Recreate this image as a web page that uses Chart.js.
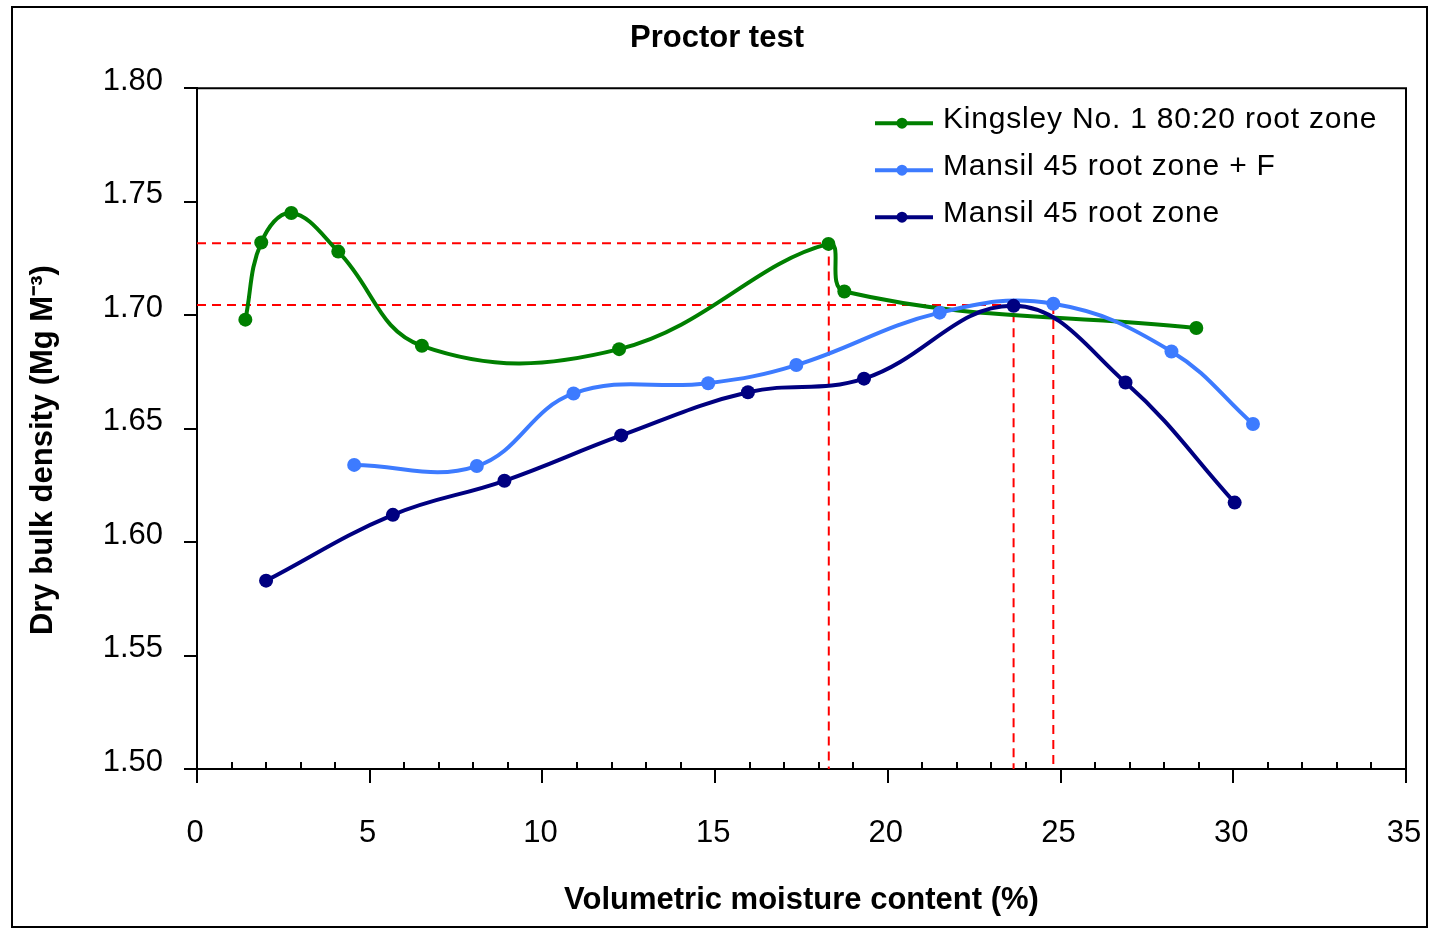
<!DOCTYPE html>
<html>
<head>
<meta charset="utf-8">
<title>Proctor test</title>
<script src="https://cdn.jsdelivr.net/npm/chart.js@4.4.1/dist/chart.umd.min.js"></script>
<style>
  html, body { margin: 0; padding: 0; background: #fff; }
  #wrap { position: relative; width: 1435px; height: 929px; overflow: hidden; }
  #frame { position: absolute; left: 11px; top: 6px; width: 1417px; height: 922px; border: 2px solid #000; box-sizing: border-box; }
  #proctor { position: absolute; left: 0; top: 0; }
</style>
</head>
<body>
<div id="wrap">
  <div id="frame"></div>
  <canvas id="proctor" width="1435" height="929"></canvas>
</div>
<script>
// moisture (%) and dry bulk density (Mg m-3)
const kingsleyX = [1.40, 1.86, 2.73, 4.09, 6.51, 12.22, 18.28, 18.74, 28.93];
const kingsleyY = [1.698, 1.732, 1.745, 1.728, 1.6865, 1.685, 1.7314, 1.7104, 1.6943];

const mansilFX = [4.55, 8.10, 10.90, 14.80, 17.35, 21.50, 24.79, 28.21, 30.57];
const mansilFY = [1.634, 1.6335, 1.6655, 1.670, 1.678, 1.7011, 1.705, 1.684, 1.652];

const mansilX = [2.00, 5.67, 8.90, 12.28, 15.95, 19.31, 23.64, 26.88, 30.04];
const mansilY = [1.583, 1.612, 1.627, 1.647, 1.666, 1.672, 1.7041, 1.6703, 1.6174];

// red dashed guide lines (max density / optimum moisture)
const guideX = [[0, 18.29, 18.29], [0, 23.64, 23.64], [24.79, 24.79]];
const guideY = [[1.7317, 1.7317, 1.5], [1.7045, 1.7045, 1.5], [1.7045, 1.5]];

const xTicks = { min: 0, max: 35, step: 5 };
const yTicks = { min: 1.5, max: 1.8, step: 0.05 };

const seriesLabels = ['Kingsley No. 1 80:20 root zone', 'Mansil 45 root zone + F', 'Mansil 45 root zone'];
const seriesColors = ['#007f00', '#3d7bff', '#000080'];

const pts = (xs, ys) => xs.map((x, i) => ({ x: x, y: ys[i] }));

Chart.defaults.font.family = '"Liberation Sans", Arial, Helvetica, sans-serif';
Chart.defaults.color = '#000';

const seriesSets = [[kingsleyX, kingsleyY], [mansilFX, mansilFY], [mansilX, mansilY]].map((s, i) => ({
    label: seriesLabels[i],
    data: pts(s[0], s[1]),
    borderColor: seriesColors[i],
    backgroundColor: seriesColors[i],
    pointBackgroundColor: seriesColors[i],
    pointBorderWidth: 0,
    pointRadius: 7,
    borderWidth: 4,
    tension: 0.4,
    order: 3 - i
}));

const guideSets = guideX.map((xs, i) => ({
    label: 'guide' + i,
    isGuide: true,
    data: pts(xs, guideY[i]),
    borderColor: '#ff0000',
    borderWidth: 2,
    borderDash: [9, 6],
    pointRadius: 0,
    tension: 0,
    order: 10
}));

// top/right box lines and small minor ticks on the x axis
const plotFrame = {
    id: 'plotFrame',
    afterDraw(chart) {
        const { ctx, chartArea: a, scales: { x } } = chart;
        ctx.save();
        ctx.strokeStyle = '#000';
        ctx.lineWidth = 2;
        ctx.beginPath();
        ctx.moveTo(a.left, a.top);
        ctx.lineTo(a.right, a.top);
        ctx.lineTo(a.right, a.bottom);
        for (let v = Math.ceil(x.min) + 1; v < x.max; v++) {
            if (v % xTicks.step === 0) continue;
            const px = Math.round(x.getPixelForValue(v));
            ctx.moveTo(px, a.bottom);
            ctx.lineTo(px, a.bottom - 7);
        }
        ctx.stroke();
        ctx.restore();
    }
};

// legend drawn inside the plot, top right
const insideLegend = {
    id: 'insideLegend',
    afterDraw(chart) {
        const { ctx, chartArea: a } = chart;
        ctx.save();
        ctx.font = '30px "Liberation Sans", Arial, sans-serif';
        ctx.textBaseline = 'middle';
        ctx.textAlign = 'left';
        if ('letterSpacing' in ctx) ctx.letterSpacing = '0.8px';
        chart.data.datasets.filter(d => !d.isGuide).forEach((d, i) => {
            const y = a.top + 35 + i * 47;
            const x0 = a.right - 531;
            ctx.strokeStyle = d.borderColor;
            ctx.lineWidth = 4;
            ctx.beginPath();
            ctx.moveTo(x0, y);
            ctx.lineTo(x0 + 58, y);
            ctx.stroke();
            ctx.fillStyle = d.borderColor;
            ctx.beginPath();
            ctx.arc(x0 + 27, y, 5.5, 0, Math.PI * 2);
            ctx.fill();
            ctx.fillStyle = '#000';
            ctx.fillText(d.label, x0 + 68, y - 3);
        });
        ctx.restore();
    }
};

const ctx = document.getElementById('proctor').getContext('2d');
new Chart(ctx, {
    type: 'line',
    data: { datasets: guideSets.concat(seriesSets) },
    options: {
        responsive: false,
        animation: false,
        devicePixelRatio: 1,
        layout: { padding: { left: 28, right: 29, top: 0, bottom: 0 } },
        plugins: {
            legend: { display: false },
            tooltip: { enabled: false },
            title: {
                display: true,
                text: 'Proctor test',
                color: '#000',
                font: { size: 31, weight: 'bold' },
                padding: { top: 20, bottom: 31 }
            }
        },
        scales: {
            x: {
                type: 'linear',
                min: xTicks.min,
                max: xTicks.max,
                ticks: { stepSize: xTicks.step, padding: 32, labelOffset: -2, color: '#000', font: { size: 31 } },
                grid: { drawOnChartArea: false, drawTicks: true, tickLength: 14, color: '#000', lineWidth: 2 },
                border: { display: true, color: '#000', width: 2 },
                title: {
                    display: true,
                    text: 'Volumetric moisture content (%)',
                    color: '#000',
                    font: { size: 31, weight: 'bold' },
                    padding: { top: 0, bottom: 10 }
                },
                afterFit(scale) {
                    scale.height = 160;
                    scale.paddingLeft = 0;
                    scale.paddingRight = 0;
                }
            },
            y: {
                type: 'linear',
                min: yTicks.min,
                max: yTicks.max,
                ticks: {
                    stepSize: yTicks.step,
                    padding: 21,
                    labelOffset: -7,
                    color: '#000',
                    font: { size: 31 },
                    callback: v => v.toFixed(2)
                },
                grid: { drawOnChartArea: false, drawTicks: true, tickLength: 13, color: '#000', lineWidth: 2 },
                border: { display: true, color: '#000', width: 2 },
                title: {
                    display: true,
                    text: 'Dry bulk density (Mg M\u207b\u00b3)' + '\u00a0'.repeat(5),
                    color: '#000',
                    font: { size: 31, weight: 'bold', lineHeight: 1 },
                    padding: { top: 0, bottom: 0 }
                },
                afterFit(scale) {
                    scale.width = 169;
                    scale.paddingTop = 0;
                    scale.paddingBottom = 0;
                }
            }
        }
    },
    plugins: [plotFrame, insideLegend]
});
</script>
</body>
</html>
